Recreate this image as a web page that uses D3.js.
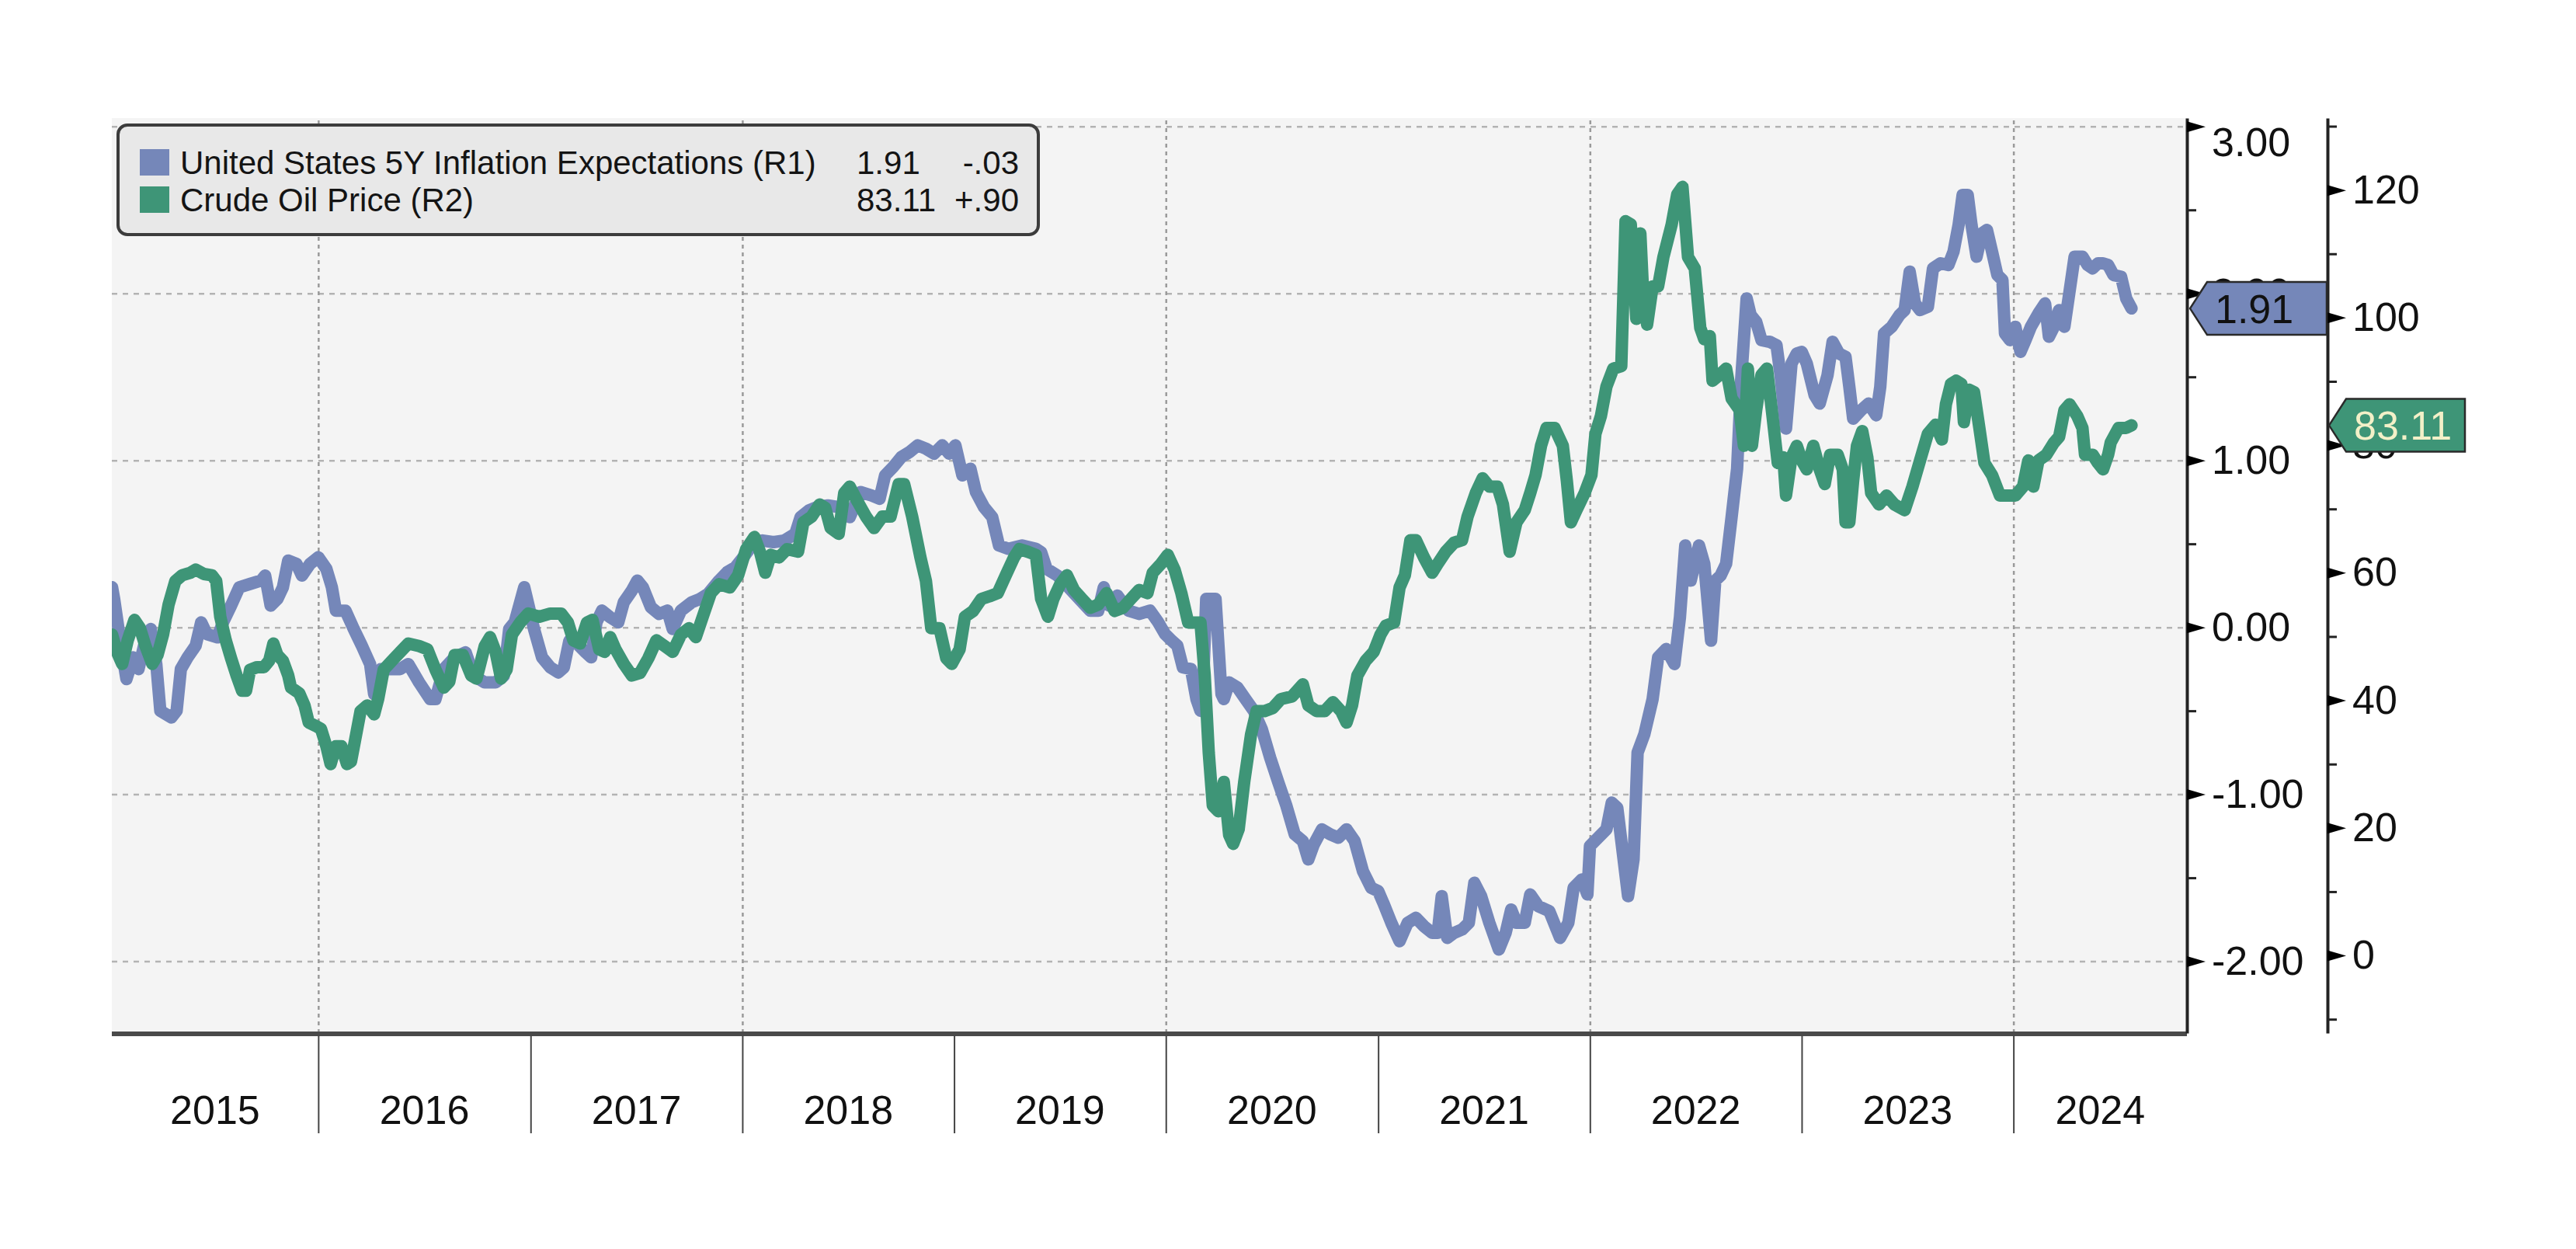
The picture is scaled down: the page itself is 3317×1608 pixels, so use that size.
<!DOCTYPE html>
<html>
<head>
<meta charset="utf-8">
<script src="https://cdnjs.cloudflare.com/ajax/libs/d3/7.8.5/d3.min.js"></script>
<style>
  body { margin: 0; background: #fff; }
  text { font-family: "Liberation Sans", Arial, sans-serif; }
</style>
</head>
<body>
<div id="chart"></div>
<script>
// US 5Y inflation expectations (R1) - dates as decimal years
var inflDates = [2015.026,2015.036,2015.068,2015.094,2015.126,2015.151,2015.177,2015.209,2015.235,2015.254,2015.306,2015.331,2015.351,2015.383,2015.421,2015.447,2015.473,2015.524,2015.550,2015.588,2015.627,2015.678,2015.730,2015.749,2015.775,2015.807,2015.833,2015.858,2015.897,2015.923,2015.961,2016.000,2016.038,2016.064,2016.083,2016.128,2016.167,2016.205,2016.244,2016.263,2016.295,2016.347,2016.385,2016.424,2016.475,2016.527,2016.552,2016.591,2016.642,2016.694,2016.732,2016.784,2016.835,2016.874,2016.899,2016.925,2016.970,2016.996,
  2017.016,2017.054,2017.093,2017.131,2017.157,2017.183,2017.221,2017.260,2017.286,2017.311,2017.337,2017.376,2017.414,2017.440,2017.478,2017.504,2017.530,2017.568,2017.607,2017.646,2017.671,2017.710,2017.761,2017.800,2017.838,2017.890,2017.928,2017.967,2018.005,2018.057,2018.095,2018.147,2018.198,2018.250,2018.275,2018.314,2018.352,2018.404,2018.455,2018.507,2018.558,2018.610,2018.648,2018.674,2018.712,2018.751,2018.790,2018.828,2018.867,2018.905,2018.944,2018.976,
  2019.006,2019.039,2019.077,2019.103,2019.141,2019.180,2019.212,2019.257,2019.321,2019.386,2019.411,2019.437,2019.488,2019.540,2019.591,2019.643,2019.681,2019.707,2019.733,2019.771,2019.823,2019.874,2019.925,2019.964,2019.996,2020.028,2020.054,2020.080,2020.118,2020.144,2020.163,2020.172,2020.190,2020.234,2020.262,2020.273,2020.298,2020.337,2020.375,2020.414,2020.452,2020.491,2020.530,2020.568,2020.607,2020.645,2020.671,2020.697,2020.735,2020.774,2020.812,2020.851,2020.889,2020.928,2020.967,
  2021.000,2021.024,2021.062,2021.101,2021.139,2021.178,2021.216,2021.255,2021.281,2021.300,2021.326,2021.358,2021.396,2021.428,2021.454,2021.486,2021.525,2021.570,2021.602,2021.628,2021.653,2021.692,2021.718,2021.756,2021.808,2021.859,2021.898,2021.923,2021.962,2021.988,2022.000,2022.039,2022.078,2022.103,2022.129,2022.155,2022.180,2022.206,2022.225,2022.257,2022.283,2022.296,2022.322,2022.360,2022.399,2022.425,2022.450,2022.476,2022.515,2022.540,2022.572,2022.592,2022.617,2022.643,2022.669,2022.695,2022.714,2022.740,2022.759,2022.785,2022.810,2022.849,2022.881,2022.900,2022.926,2022.952,2022.977,
  2023.000,2023.024,2023.061,2023.085,2023.122,2023.146,2023.176,2023.207,2023.225,2023.243,2023.280,2023.316,2023.352,2023.371,2023.389,2023.425,2023.462,2023.486,2023.510,2023.535,2023.559,2023.596,2023.620,2023.656,2023.693,2023.717,2023.741,2023.760,2023.784,2023.802,2023.826,2023.851,2023.875,2023.899,2023.924,2023.948,2023.960,2023.984,2024.009,2024.033,2024.057,2024.082,2024.118,2024.149,2024.167,2024.191,2024.215,2024.240,2024.264,2024.288,2024.325,2024.349,2024.373,2024.398,2024.422,2024.446,2024.471,2024.507,2024.531,2024.556];
var inflValues = [0.24,0.17,-0.11,-0.31,-0.18,-0.25,-0.11,-0.01,-0.22,-0.50,-0.54,-0.50,-0.25,-0.18,-0.11,0.03,-0.04,-0.06,0.03,0.13,0.24,0.26,0.28,0.31,0.13,0.17,0.24,0.40,0.38,0.31,0.38,0.42,0.35,0.24,0.10,0.10,-0.01,-0.11,-0.22,-0.40,-0.25,-0.25,-0.25,-0.22,-0.33,-0.43,-0.43,-0.25,-0.18,-0.15,-0.29,-0.33,-0.33,-0.29,-0.01,0.03,0.24,0.10,
  -0.01,-0.18,-0.24,-0.27,-0.24,-0.08,-0.10,-0.15,-0.18,0.03,0.10,0.06,0.03,0.15,0.22,0.28,0.24,0.12,0.08,0.10,-0.01,0.10,0.15,0.17,0.20,0.28,0.33,0.36,0.42,0.51,0.52,0.51,0.52,0.56,0.66,0.70,0.72,0.73,0.72,0.66,0.81,0.79,0.77,0.91,0.96,1.02,1.05,1.09,1.07,1.04,1.09,1.04,
  1.09,0.91,0.95,0.81,0.72,0.66,0.49,0.47,0.49,0.47,0.45,0.35,0.31,0.24,0.17,0.10,0.10,0.24,0.13,0.19,0.10,0.08,0.10,0.03,-0.04,-0.08,-0.11,-0.24,-0.25,-0.43,-0.50,-0.45,0.17,0.17,-0.40,-0.43,-0.33,-0.36,-0.43,-0.50,-0.61,-0.78,-0.93,-1.07,-1.24,-1.28,-1.39,-1.30,-1.21,-1.24,-1.26,-1.21,-1.28,-1.46,-1.56,
  -1.58,-1.65,-1.77,-1.88,-1.77,-1.74,-1.79,-1.83,-1.83,-1.61,-1.86,-1.83,-1.81,-1.77,-1.53,-1.61,-1.77,-1.93,-1.83,-1.69,-1.77,-1.77,-1.60,-1.67,-1.70,-1.86,-1.77,-1.56,-1.51,-1.60,-1.31,-1.26,-1.21,-1.05,-1.08,-1.35,-1.61,-1.39,-0.75,-0.64,-0.50,-0.43,-0.18,-0.13,-0.22,0.06,0.49,0.28,0.49,0.38,-0.08,0.28,0.31,0.38,0.66,0.95,1.48,1.97,1.87,1.83,1.72,1.71,1.69,1.51,1.19,1.58,1.64,
  1.65,1.58,1.39,1.34,1.51,1.71,1.64,1.62,1.44,1.25,1.30,1.34,1.27,1.44,1.76,1.80,1.87,1.90,2.13,1.94,1.90,1.92,2.15,2.18,2.17,2.25,2.41,2.59,2.59,2.41,2.22,2.36,2.38,2.25,2.11,2.08,1.76,1.72,1.80,1.65,1.72,1.80,1.88,1.94,1.74,1.80,1.90,1.80,2.01,2.22,2.22,2.17,2.15,2.18,2.18,2.17,2.11,2.10,1.97,1.91];

// Crude oil price (R2)
var oilDates = [2015.026,2015.049,2015.074,2015.100,2015.132,2015.158,2015.184,2015.216,2015.241,2015.267,2015.293,2015.325,2015.357,2015.396,2015.421,2015.460,2015.498,2015.518,2015.537,2015.563,2015.588,2015.614,2015.640,2015.659,2015.678,2015.711,2015.743,2015.768,2015.788,2015.807,2015.833,2015.858,2015.871,2015.910,2015.935,2015.955,2015.987,2016.013,2016.038,2016.058,2016.083,2016.109,2016.135,2016.154,2016.173,2016.199,2016.231,2016.263,2016.282,2016.308,2016.347,2016.398,2016.424,2016.475,2016.514,2016.552,2016.591,2016.617,2016.642,2016.681,2016.720,2016.745,2016.784,2016.809,2016.835,2016.861,2016.887,2016.912,2016.951,2016.989,
  2017.041,2017.093,2017.144,2017.176,2017.202,2017.234,2017.266,2017.292,2017.324,2017.350,2017.376,2017.401,2017.440,2017.478,2017.517,2017.556,2017.594,2017.633,2017.671,2017.710,2017.748,2017.780,2017.813,2017.851,2017.890,2017.941,2017.980,2018.018,2018.057,2018.083,2018.108,2018.134,2018.173,2018.211,2018.263,2018.288,2018.327,2018.365,2018.391,2018.417,2018.455,2018.481,2018.507,2018.545,2018.584,2018.622,2018.661,2018.700,2018.738,2018.764,2018.802,2018.841,2018.867,2018.892,2018.931,2018.963,2018.989,
  2019.026,2019.051,2019.090,2019.129,2019.167,2019.206,2019.244,2019.283,2019.308,2019.347,2019.386,2019.411,2019.443,2019.469,2019.501,2019.533,2019.566,2019.604,2019.643,2019.681,2019.720,2019.758,2019.797,2019.835,2019.874,2019.913,2019.938,2019.977,2020.009,2020.041,2020.073,2020.105,2020.131,2020.163,2020.183,2020.202,2020.221,2020.247,2020.273,2020.298,2020.317,2020.343,2020.369,2020.401,2020.427,2020.465,2020.504,2020.542,2020.594,2020.645,2020.671,2020.710,2020.748,2020.787,2020.825,2020.851,2020.877,2020.902,2020.941,2020.979,
  2021.011,2021.036,2021.075,2021.101,2021.126,2021.152,2021.178,2021.216,2021.255,2021.281,2021.319,2021.358,2021.396,2021.422,2021.461,2021.493,2021.525,2021.563,2021.589,2021.621,2021.653,2021.692,2021.718,2021.743,2021.769,2021.795,2021.833,2021.872,2021.891,2021.910,2021.936,2021.975,2022.007,2022.026,2022.052,2022.078,2022.110,2022.148,2022.168,2022.193,2022.219,2022.238,2022.251,2022.270,2022.296,2022.322,2022.347,2022.386,2022.412,2022.437,2022.463,2022.495,2022.521,2022.540,2022.566,2022.579,2022.611,2022.643,2022.669,2022.707,2022.727,2022.746,2022.765,2022.785,2022.810,2022.836,2022.862,2022.887,2022.913,2022.926,2022.952,2022.977,
  2023.000,2023.024,2023.055,2023.085,2023.109,2023.134,2023.170,2023.194,2023.207,2023.225,2023.243,2023.261,2023.286,2023.310,2023.328,2023.365,2023.401,2023.438,2023.486,2023.523,2023.559,2023.596,2023.632,2023.662,2023.681,2023.705,2023.729,2023.754,2023.766,2023.790,2023.814,2023.839,2023.863,2023.899,2023.936,2023.972,2024.009,2024.045,2024.070,2024.094,2024.118,2024.155,2024.191,2024.215,2024.240,2024.264,2024.300,2024.325,2024.337,2024.373,2024.398,2024.422,2024.446,2024.458,2024.495,2024.531,2024.556];
var oilValues = [50.3,47.6,45.7,49.4,52.6,51.3,48.5,45.7,47.1,50.3,55.0,58.7,59.6,60.0,60.5,59.8,59.6,58.7,53.1,49.4,46.6,43.9,41.5,41.5,44.8,45.2,45.2,46.2,48.9,47.1,46.2,43.9,42.0,41.1,39.2,36.5,36.0,35.5,32.8,30.0,32.8,32.8,30.0,30.4,33.7,38.3,39.2,37.8,40.2,44.8,46.2,48.0,48.9,48.5,48.0,44.8,42.0,42.9,47.1,47.1,43.9,43.4,48.5,49.9,47.6,43.4,44.8,50.3,52.2,53.6,
  53.1,53.6,53.6,52.2,49.4,48.9,52.2,52.6,48.0,47.6,49.9,48.0,45.7,43.9,44.3,46.6,49.4,48.5,47.6,50.3,51.3,49.9,53.1,56.8,58.2,57.7,59.6,63.7,65.6,63.3,60.0,62.8,62.4,63.7,63.3,67.9,68.8,70.7,70.2,67.0,66.1,72.5,73.5,71.1,68.8,67.0,68.8,68.8,73.9,73.9,68.8,62.4,58.7,51.3,51.3,46.6,45.7,
  48.0,53.1,54.0,55.9,56.3,56.8,59.6,62.4,63.7,63.3,62.8,55.9,53.1,55.9,58.2,59.6,57.3,55.9,54.5,55.0,56.8,54.0,54.5,55.9,57.3,56.8,60.0,61.4,62.8,60.5,56.8,52.2,52.2,52.2,43.9,31.8,23.5,22.6,27.2,18.9,17.5,19.8,27.2,34.6,38.3,38.3,38.8,40.2,40.6,42.5,39.2,38.3,38.3,39.7,38.3,36.5,39.2,43.9,46.2,47.6,
  50.3,51.7,52.2,57.7,59.6,65.1,65.1,62.4,60.0,61.4,63.3,64.7,65.1,68.8,72.5,74.8,73.5,73.5,70.7,63.3,67.9,69.8,72.5,75.3,79.9,82.7,82.7,79.9,74.4,67.9,69.8,72.5,75.3,81.8,84.6,89.2,92.0,92.4,115.1,114.6,99.8,113.2,104.0,98.9,104.9,104.9,109.5,114.6,119.3,120.5,109.5,107.7,98.4,96.6,97.1,90.1,91.0,92.0,87.3,85.5,79.9,92.0,79.9,85.5,91.0,92.0,84.6,77.2,78.1,72.1,78.1,79.9,
  77.6,76.2,79.9,76.2,73.9,78.5,78.5,76.2,67.9,67.9,74.4,79.9,82.2,78.1,72.5,70.7,72.1,70.7,69.8,73.5,77.6,81.8,83.2,80.9,86.4,89.6,90.1,89.6,83.6,88.7,88.3,82.7,77.2,75.3,72.1,72.1,72.1,73.5,77.6,73.5,77.6,78.5,80.4,81.3,85.5,86.4,84.6,82.7,78.5,78.5,77.2,76.2,78.5,80.4,82.7,82.7,83.11];

var yearLabels = ["2015","2016","2017","2018","2019","2020","2021","2022","2023","2024"];
var gridYears = [2016, 2018, 2020, 2022, 2024];
var r1Major = [-2, -1, 0, 1, 2, 3];
var r1Minor = [-1.5, -0.5, 0.5, 1.5, 2.5];
var r2Major = [0, 20, 40, 60, 80, 100, 120];
var r2Minor = [-10, 10, 30, 50, 70, 90, 110, 130];
var seriesNames = ["United States 5Y Inflation Expectations (R1)", "Crude Oil Price (R2)"];
var lastValues = ["1.91", "83.11"];
var lastChanges = ["-.03", "+.90"];
var colors = ["#7587b9", "#3e9577"];

var margin = { left: 144, right: 501, top: 152, bottom: 278 };
var width = 3317 - margin.left - margin.right,
    height = 1608 - margin.top - margin.bottom;

function toDate(t) {
  var yr = Math.floor(t);
  var a = Date.UTC(yr, 0, 1), b = Date.UTC(yr + 1, 0, 1);
  return new Date(a + (t - yr) * (b - a));
}

var infl = inflDates.map((d, i) => ({ date: toDate(d), v: inflValues[i] }));
var oil = oilDates.map((d, i) => ({ date: toDate(d), v: oilValues[i] }));

var svg = d3.select("#chart").append("svg")
  .attr("width", 3317).attr("height", 1608);

var g = svg.append("g")
  .attr("transform", "translate(" + margin.left + "," + margin.top + ")");

// scales
var x = d3.scaleUtc().domain([toDate(2015.025), toDate(2024.817)]).range([0, width]);
var y1 = d3.scaleLinear().domain([-2.43, 3.05]).range([height, 0]);
var y2 = d3.scaleLinear().domain([-12.17, 131.28]).range([height, 0]);

// plot background
g.append("rect").attr("width", width).attr("height", height).attr("fill", "#f4f4f4");

// horizontal grid
g.append("g")
  .call(d3.axisLeft(y1).tickValues(r1Major).tickSize(-width).tickFormat(""))
  .call(s => s.select(".domain").remove())
  .selectAll("line")
  .attr("stroke", "#b3b3b3").attr("stroke-width", 2.5).attr("stroke-dasharray", "7,7");

// vertical grid every two years
g.append("g")
  .attr("transform", "translate(0," + height + ")")
  .call(d3.axisBottom(x).tickValues(gridYears.map(toDate)).tickSize(-height).tickFormat(""))
  .call(s => s.select(".domain").remove())
  .selectAll("line")
  .attr("stroke", "#9a9a9a").attr("stroke-width", 2.5).attr("stroke-dasharray", "5,5");

// lines
g.append("clipPath").attr("id", "clip")
  .append("rect").attr("width", width).attr("height", height);

var line1 = d3.line().x(d => x(d.date)).y(d => y1(d.v));
var line2 = d3.line().x(d => x(d.date)).y(d => y2(d.v));

g.append("path").datum(infl)
  .attr("clip-path", "url(#clip)")
  .attr("fill", "none").attr("stroke", colors[0]).attr("stroke-width", 16)
  .attr("stroke-linejoin", "round").attr("stroke-linecap", "round")
  .attr("d", line1);

g.append("path").datum(oil)
  .attr("clip-path", "url(#clip)")
  .attr("fill", "none").attr("stroke", colors[1]).attr("stroke-width", 16)
  .attr("stroke-linejoin", "round").attr("stroke-linecap", "round")
  .attr("d", line2);

// bottom border
g.append("line").attr("x1", 0).attr("x2", width).attr("y1", height + 1).attr("y2", height + 1)
  .attr("stroke", "#4a4a4a").attr("stroke-width", 6);

// x axis: year boundary ticks below the plot
var yearBounds = d3.range(2016, 2025).map(toDate);
g.append("g")
  .attr("transform", "translate(0," + (height + 3) + ")")
  .call(d3.axisBottom(x).tickValues(yearBounds).tickSize(126).tickFormat(""))
  .call(s => s.select(".domain").remove())
  .selectAll("line").attr("stroke", "#444").attr("stroke-width", 2);

var dom = x.domain();
g.append("g").selectAll("text")
  .data(yearLabels)
  .enter().append("text")
  .attr("x", d => {
    var a = Math.max(+toDate(+d), +dom[0]), b = Math.min(+toDate(+d + 1), +dom[1]);
    return (x(new Date(a)) + x(new Date(b))) / 2;
  })
  .attr("y", height + 117)
  .attr("text-anchor", "middle")
  .attr("font-size", "52px")
  .attr("fill", "#111")
  .text(d => d);

var fmt = d => d3.format(".2f")(d).replace("\u2212", "-");
var tri = "M0,-7L24,0L0,7Z";

function styleAxis(sel) {
  sel.select(".domain").attr("stroke", "#222").attr("stroke-width", 4);
  sel.selectAll("text").attr("font-size", "52px").attr("fill", "#111")
    .attr("font-family", "Liberation Sans, Arial, sans-serif");
  sel.selectAll(".tick").append("path").attr("d", tri).attr("fill", "#000");
}

// R1 axis (at plot right edge)
var r1Axis = g.append("g")
  .attr("transform", "translate(" + width + ",0)")
  .call(d3.axisRight(y1).tickValues(r1Major).tickSize(0).tickSizeOuter(0).tickPadding(32).tickFormat(fmt))
  .call(styleAxis);
r1Axis.selectAll(".tick").filter(d => d === 3).select("text").attr("dy", "0.72em");

g.append("g")
  .attr("transform", "translate(" + width + ",0)")
  .call(d3.axisRight(y1).tickValues(r1Minor).tickSize(12).tickFormat(""))
  .call(s => s.select(".domain").remove())
  .selectAll("line").attr("stroke", "#222").attr("stroke-width", 3);

// R2 axis
var r2x = width + 181;
g.append("g")
  .attr("transform", "translate(" + r2x + ",0)")
  .call(d3.axisRight(y2).tickValues(r2Major).tickSize(0).tickSizeOuter(0).tickPadding(32).tickFormat(d3.format("d")))
  .call(styleAxis);

g.append("g")
  .attr("transform", "translate(" + r2x + ",0)")
  .call(d3.axisRight(y2).tickValues(r2Minor).tickSize(12).tickFormat(""))
  .call(s => s.select(".domain").remove())
  .selectAll("line").attr("stroke", "#222").attr("stroke-width", 3);

// last value callouts (they cover the 2.00 and 80 tick labels, as in the original)
function callout(tipX, y, bodyX, endX, fill, textFill, label) {
  var h = 34;
  g.append("path")
    .attr("d", "M" + tipX + "," + y + "L" + bodyX + "," + (y - h) + "L" + endX + "," + (y - h) +
               "L" + endX + "," + (y + h) + "L" + bodyX + "," + (y + h) + "Z")
    .attr("fill", fill).attr("stroke", "#2a2a2a").attr("stroke-width", 2.5);
  g.append("text")
    .attr("x", bodyX + 10).attr("y", y).attr("dy", "0.36em")
    .attr("font-size", "52px").attr("fill", textFill)
    .text(label);
}
callout(width + 4, y1(+lastValues[0]), width + 26, width + 180, colors[0], "#111", lastValues[0]);
callout(r2x + 2, y2(+lastValues[1]), r2x + 24, r2x + 177, colors[1], "#f3f0c8", lastValues[1]);

// legend
var leg = svg.append("g");
leg.append("rect")
  .attr("x", 152).attr("y", 161).attr("width", 1185).attr("height", 141).attr("rx", 12)
  .attr("fill", "#e8e8e8").attr("stroke", "#3c3c3c").attr("stroke-width", 4);

seriesNames.forEach((name, i) => {
  var cy = 209 + i * 48;
  leg.append("rect").attr("x", 180).attr("y", cy - 17).attr("width", 38).attr("height", 34)
    .attr("fill", colors[i]);
  leg.append("text").attr("x", 232).attr("y", cy).attr("dy", "0.36em")
    .attr("font-size", "42px").attr("fill", "#141414").text(name);
  leg.append("text").attr("x", 1103).attr("y", cy).attr("dy", "0.36em")
    .attr("font-size", "42px").attr("fill", "#141414").text(lastValues[i]);
  leg.append("text").attr("x", 1312).attr("y", cy).attr("dy", "0.36em")
    .attr("text-anchor", "end")
    .attr("font-size", "42px").attr("fill", "#141414").text(lastChanges[i]);
});
</script>
</body>
</html>
